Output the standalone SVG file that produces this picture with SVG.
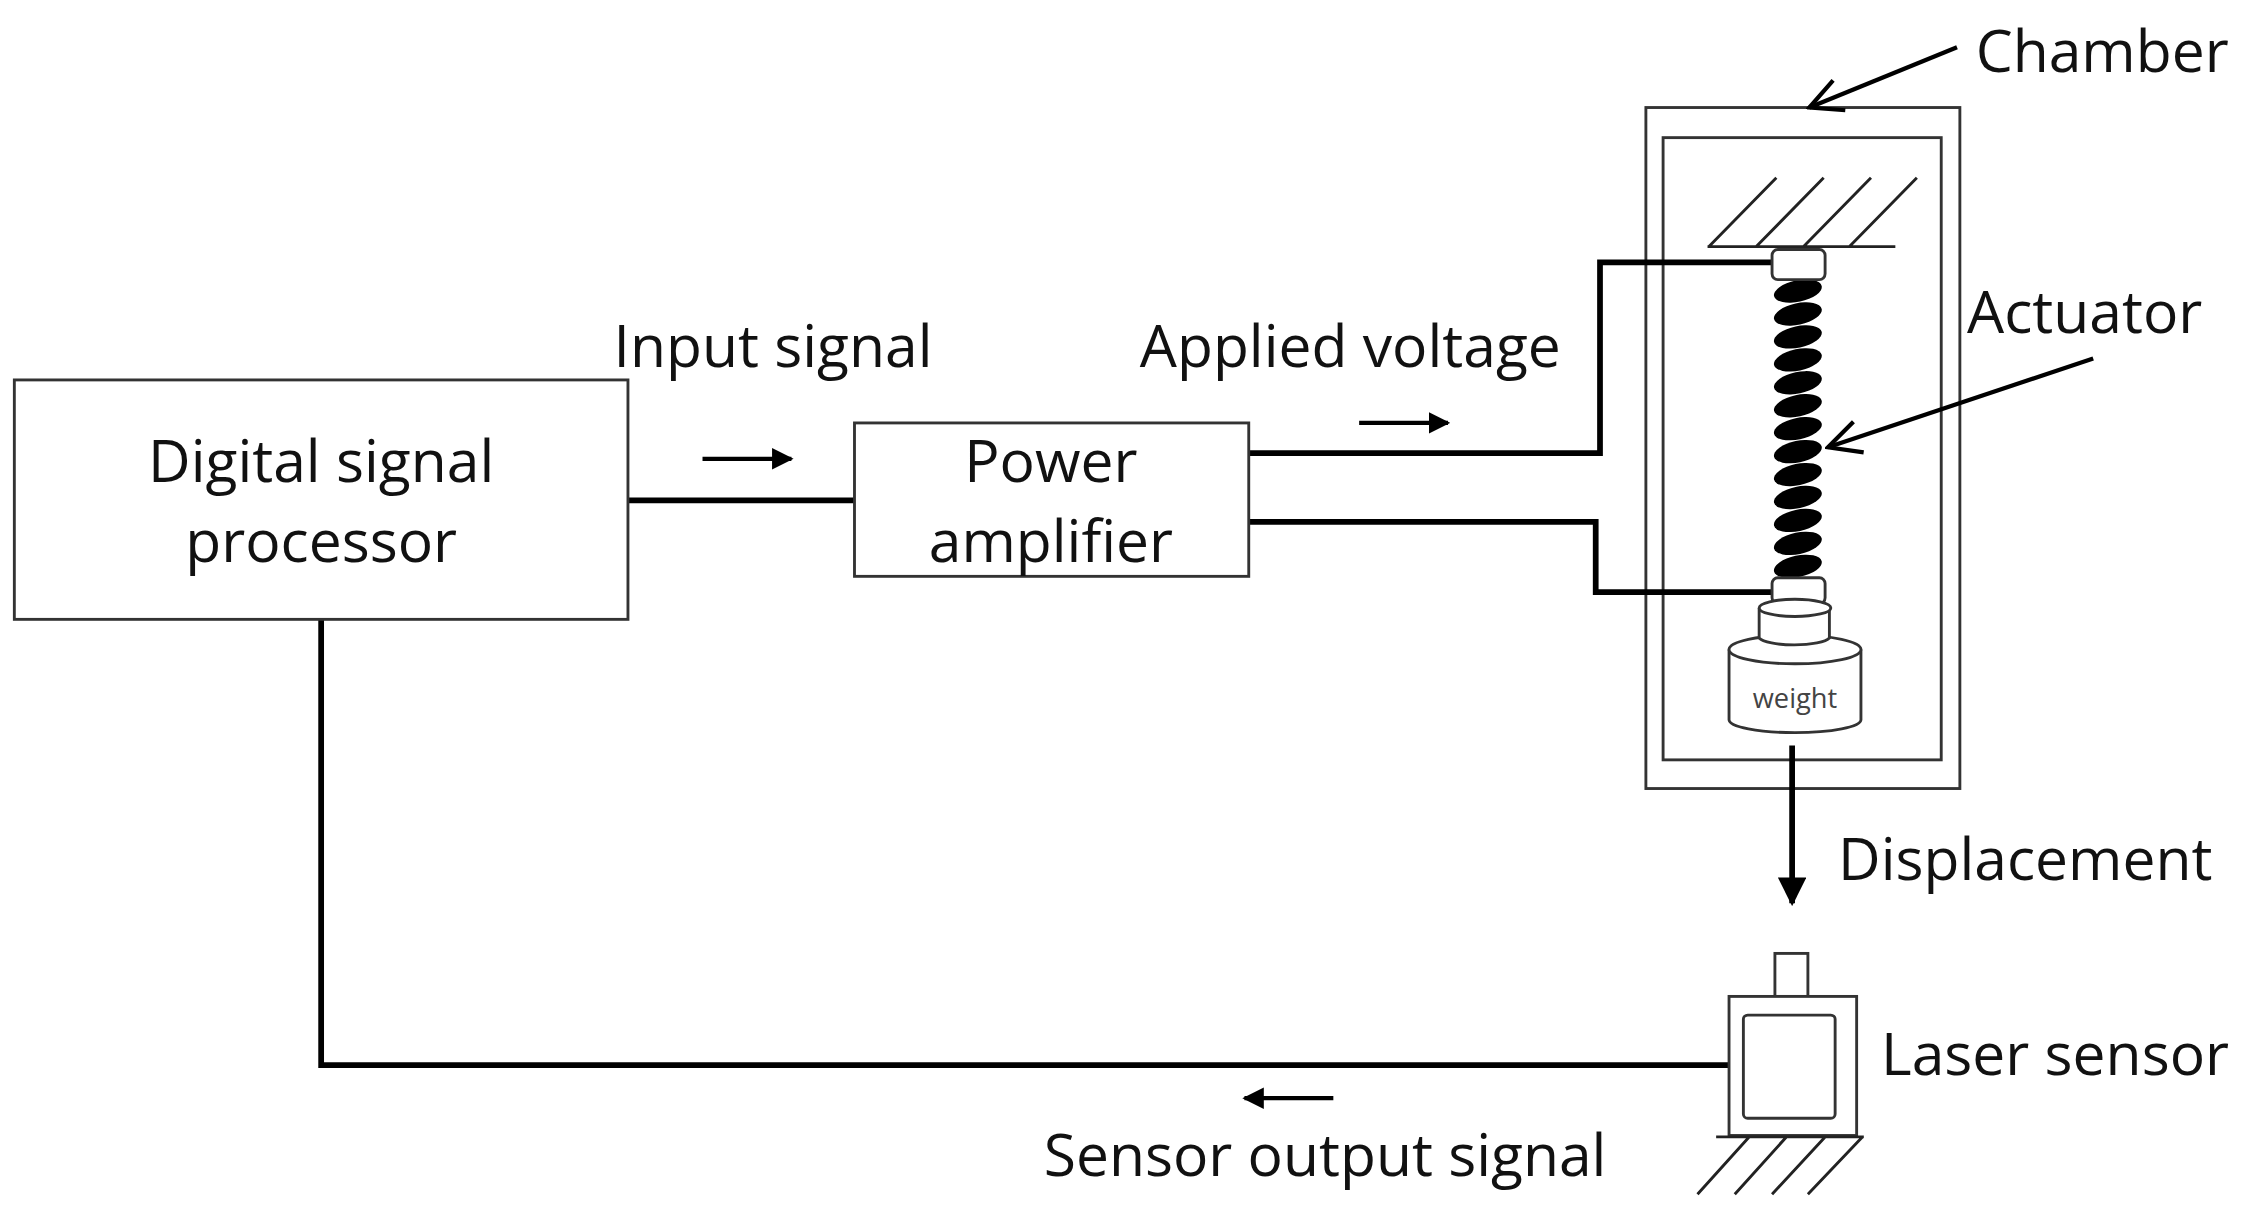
<svg xmlns="http://www.w3.org/2000/svg" width="2248" height="1220" viewBox="0 0 2248 1220">
<style>
.t{font-family:"Open Sans","Liberation Sans",sans-serif;font-size:41px;fill:#111}
.b{fill:#fff;stroke:#333;stroke-width:2}
.w{fill:none;stroke:#000;stroke-width:4}
.h{fill:none;stroke:#222;stroke-width:2}
</style>
<defs>
<marker id="ah" viewBox="0 0 10 10" refX="9" refY="5" markerWidth="5" markerHeight="5" orient="auto"><path d="M0,0 L10,5 L0,10 z" fill="#000"/></marker>
<marker id="op" viewBox="0 0 12 12" refX="11" refY="6" markerWidth="9" markerHeight="9" orient="auto"><path d="M1,1 L11,6 L1,11" fill="none" stroke="#000" stroke-width="1.3"/></marker>
<ellipse id="turn" cx="0" cy="0" rx="17" ry="7.5" transform="rotate(-12)"/>
</defs>
<rect width="2248" height="1220" fill="#fff"/>
<g transform="scale(1.4337)">
<g id="chamber">
<rect class="b" x="1148" y="75" width="219" height="475" stroke-width="3"/>
<rect class="b" x="1160" y="96" width="194" height="434" stroke-width="3"/>
<path class="h" d="M1191,172 H1322 M1192,172 L1239,124 M1225,172 L1272,124 M1258,172 L1305,124 M1290,172 L1337,124"/>
</g>
<g id="connectors">
<path class="w" d="M438,349 H596"/>
<path class="w" d="M871,316 H1116 V183 H1236"/>
<path class="w" d="M871,364 H1113 V413 H1236"/>
<path class="w" d="M1206,743 H224 V432"/>
<path class="w" d="M1250,520 V630" marker-end="url(#ah)"/>
<path d="M490,320 H552" stroke="#000" stroke-width="3" marker-end="url(#ah)"/>
<path d="M948,295 H1010" stroke="#000" stroke-width="3" marker-end="url(#ah)"/>
<path d="M930,766 H868" stroke="#000" stroke-width="3" marker-end="url(#ah)"/>
<path d="M1365,33 L1262,75" stroke="#000" stroke-width="3" fill="none" marker-end="url(#op)"/>
<path d="M1460,250 L1275,312" stroke="#000" stroke-width="3" fill="none" marker-end="url(#op)"/>
</g>
<g id="dsp"><rect class="b" x="10" y="265" width="428" height="167"/>
<text class="t" x="224" y="336" text-anchor="middle">Digital signal</text>
<text class="t" x="224" y="392" text-anchor="middle">processor</text></g>
<g id="amp"><rect class="b" x="596" y="295" width="275" height="107"/>
<text class="t" x="733" y="336" text-anchor="middle">Power</text>
<text class="t" x="733" y="392" text-anchor="middle">amplifier</text></g>
<g id="actuator">
<g fill="#000">
<use href="#turn" x="1254" y="203"/><use href="#turn" x="1254" y="219"/><use href="#turn" x="1254" y="235"/><use href="#turn" x="1254" y="251"/><use href="#turn" x="1254" y="267"/><use href="#turn" x="1254" y="283"/><use href="#turn" x="1254" y="299"/><use href="#turn" x="1254" y="315"/><use href="#turn" x="1254" y="331"/><use href="#turn" x="1254" y="347"/><use href="#turn" x="1254" y="363"/><use href="#turn" x="1254" y="379"/><use href="#turn" x="1254" y="395"/>
</g>
<rect class="b" x="1236" y="174" width="37" height="21" rx="4"/>
<rect class="b" x="1236" y="403" width="37" height="18" rx="4"/>
</g>
<g id="weight">
<path class="b" d="M1206,453 V502 A46,9 0 0 0 1298,502 V453"/>
<ellipse class="b" cx="1252" cy="453" rx="46" ry="10"/>
<path class="b" d="M1227,424 V445 A25,6 0 0 0 1276,445 V424"/>
<ellipse class="b" cx="1252" cy="424" rx="25" ry="6"/>
<text class="t" x="1252" y="494" text-anchor="middle" style="font-size:19px;fill:#444">weight</text>
</g>
<g id="sensor">
<rect class="b" x="1238" y="665" width="23" height="30"/>
<rect class="b" x="1206" y="695" width="89" height="97" stroke-width="3"/>
<rect class="b" x="1216" y="708" width="64" height="72" rx="3" stroke-width="3"/>
<path class="h" d="M1197,793 H1300 M1220,793 L1184,833 M1246,793 L1210,833 M1273,793 L1236,833 M1299,793 L1261,833" stroke-width="2.5"/>
</g>
<g id="labels">
<text class="t" x="428" y="256">Input signal</text>
<text class="t" x="795" y="256">Applied voltage</text>
<text class="t" x="1378" y="50">Chamber</text>
<text class="t" x="1372" y="232">Actuator</text>
<text class="t" x="1282" y="614">Displacement</text>
<text class="t" x="1312" y="750">Laser sensor</text>
<text class="t" x="728" y="820">Sensor output signal</text>
</g>
</g>
</svg>
